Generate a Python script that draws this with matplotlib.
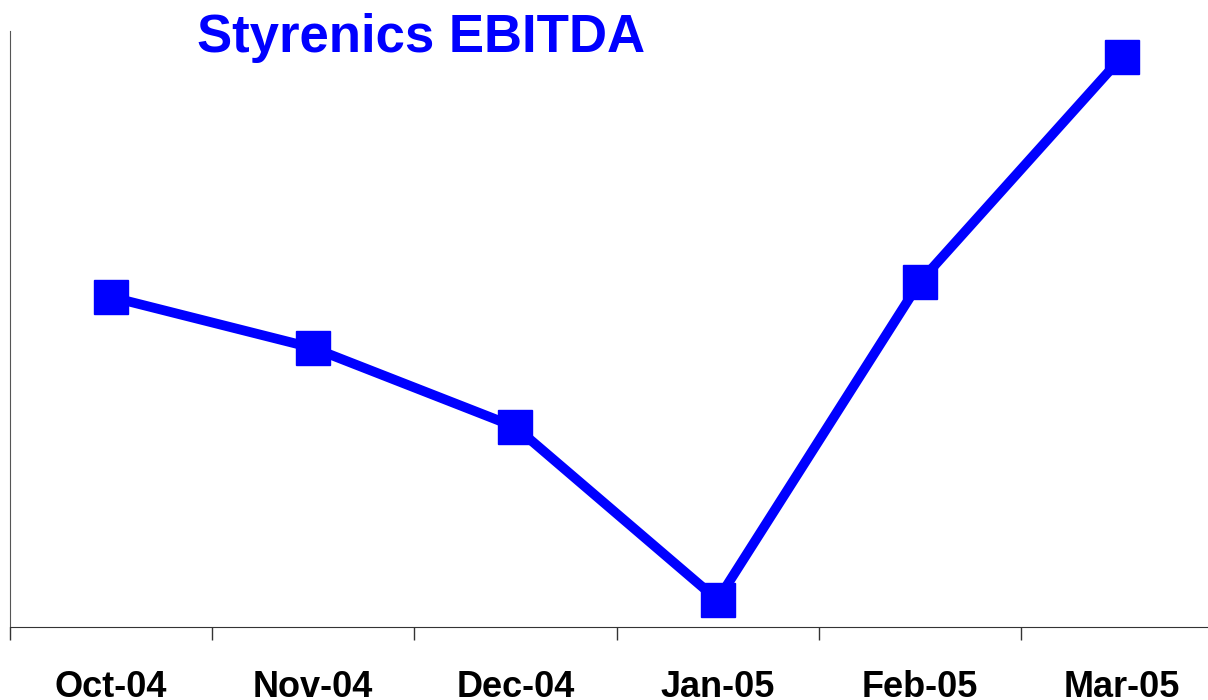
import matplotlib.pyplot as plt
import numpy as np

# datos del gráfico
months = ["Oct-04", "Nov-04", "Dec-04", "Jan-05", "Feb-05", "Mar-05"]
ebitda = [330, 279, 200, 27, 345, 570]

plt.rcParams['font.family'] = ['Liberation Sans', 'DejaVu Sans']

fig = plt.figure(figsize=(12.08, 7.0), dpi=100)
ax = fig.add_axes([10/1208, 73/700, 1213/1208, 596/700])

x = np.arange(len(months))
ax.plot(x, ebitda, color='#0000FF', linewidth=7, marker='s', markersize=24,
        markerfacecolor='#0000FF', markeredgecolor='#0000FF', solid_joinstyle='miter')

ax.set_xlim(-0.5, len(months) - 0.5)
ax.set_ylim(0, 596)

# ticks entre categorías
ax.set_xticks(np.arange(-0.5, len(months), 1.0))
ax.set_xticklabels([])
ax.set_xticks(x, minor=True)
ax.set_xticklabels(months, minor=True, fontsize=26, fontweight='bold')
ax.tick_params(axis='x', which='major', direction='out', length=9.5, width=1, color='#333333')
ax.tick_params(axis='x', which='minor', length=0, pad=31)
ax.set_yticks([])

for s in ['top', 'right']:
    ax.spines[s].set_visible(False)
ax.spines['left'].set_color('#555555')
ax.spines['bottom'].set_color('#333333')

fig.text(197/1208, 1 - 52/700, "Styrenics EBITDA", color='#0000FF', fontsize=38,
         fontweight='bold', ha='left', va='baseline')

plt.savefig("out.png", dpi=100)
